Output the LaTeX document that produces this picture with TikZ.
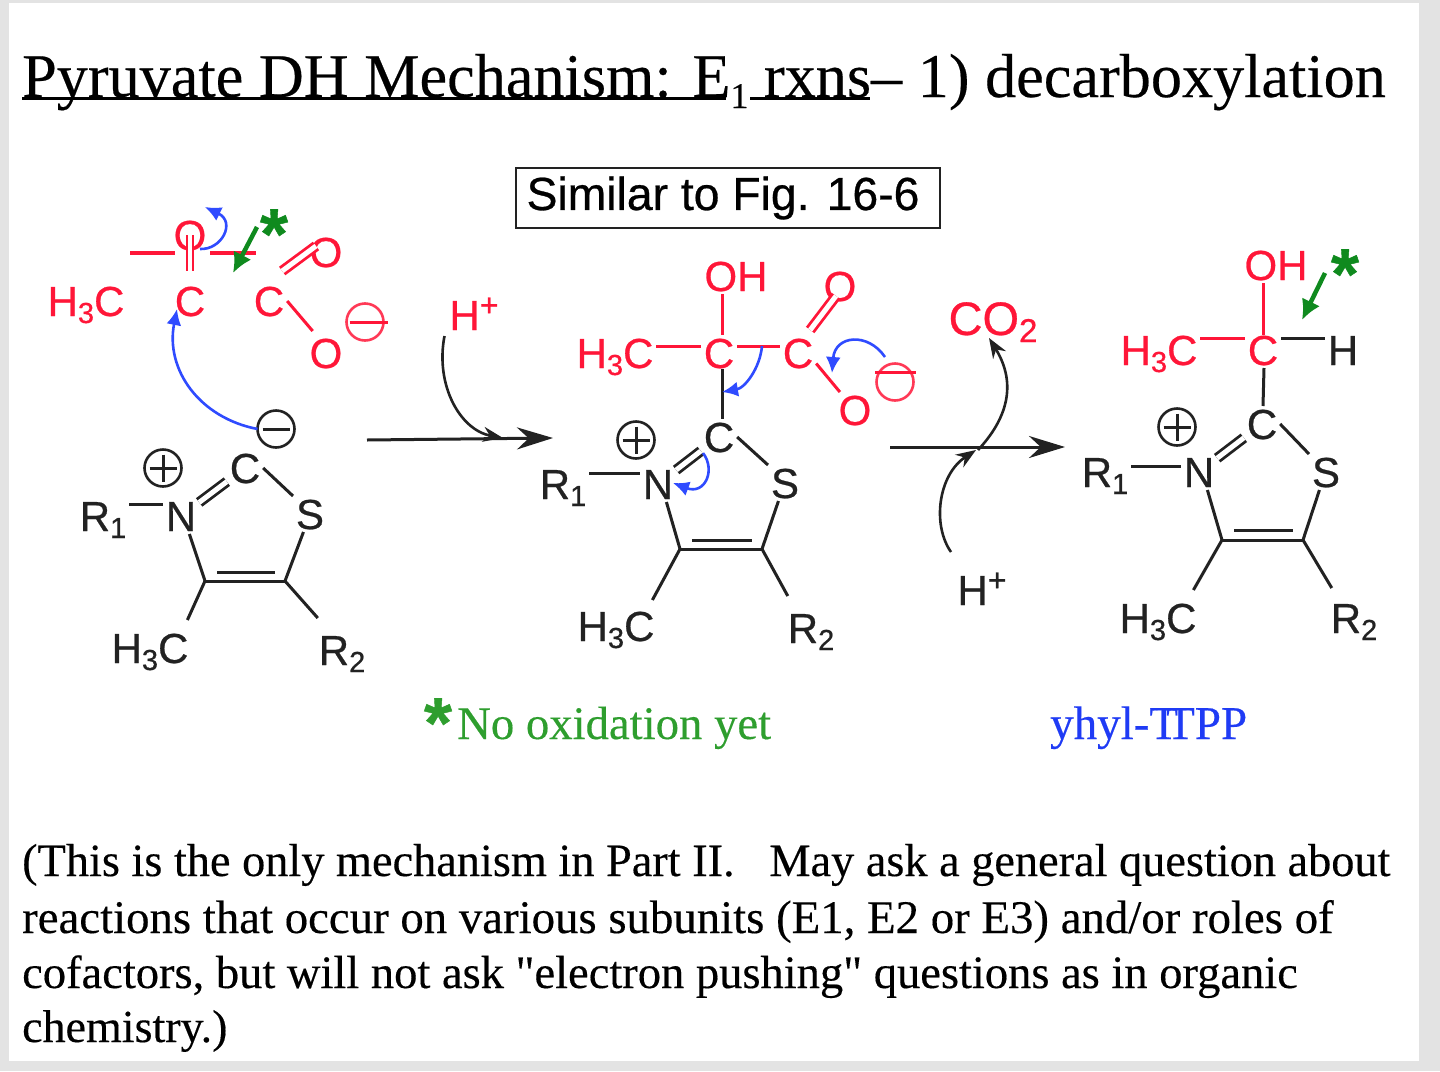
\documentclass[tikz,border=0pt]{standalone}
\usepackage{fontspec}
\setmainfont{Liberation Serif}[FakeBold=0.3]
\newfontfamily\plainserif{Liberation Serif}[FakeBold=0.3]
\newfontfamily\arialf{Liberation Sans}[FakeBold=0.6]
\usetikzlibrary{arrows.meta}
\definecolor{chemred}{HTML}{FF1638}
\definecolor{chemblue}{HTML}{2F4BFF}
\definecolor{chemgreen}{HTML}{0F8A1E}
\definecolor{txtgreen}{HTML}{2E9E2E}
\definecolor{txtblue}{HTML}{1F3BF5}
\definecolor{ink}{HTML}{222222}
\definecolor{framegrey}{HTML}{E3E3E3}
\newcommand{\sbs}[1]{\raisebox{-7pt}{\fontsize{29}{29}\selectfont #1}}
\newcommand{\sps}[1]{\raisebox{14pt}{\fontsize{32}{32}\selectfont #1}}
\tikzset{
  atom/.style={font=\arialf\fontsize{42}{42}\selectfont,inner sep=3pt,outer sep=0pt,text height=30pt,text depth=0pt,anchor=center,text=ink},
  redatom/.style={atom,text=chemred},
  bond/.style={line width=3pt,draw=ink,line cap=butt},
  redbond/.style={bond,draw=chemred},
  dblbond/.style={bond,double=white,double distance=5pt,line width=2.8pt},
  reddbl/.style={dblbond,draw=chemred},
  charge/.style={circle,draw=#1,line width=2.6pt,minimum size=37pt,inner sep=0pt,outer sep=0pt},
  chargeline/.style={line width=3pt,draw=#1},
  curly/.style={line width=2.6pt,draw=chemblue,-{Latex[length=16pt,width=15pt]}},
  greenarrow/.style={line width=4.5pt,draw=chemgreen,-{Latex[length=20pt,width=20pt]}},
  mainarrow/.style={line width=3pt,draw=ink,-{Stealth[length=36pt,width=22pt]}},
  sidearrow/.style={line width=2.6pt,draw=ink,-{Stealth[length=20pt,width=15pt]}},
  serifline/.style={font=\fontsize{#1}{#1}\selectfont,anchor=base west,inner sep=0pt,text=black},
  asterisk/.style={font=\arialf\bfseries\fontsize{72}{72}\selectfont,text=chemgreen,inner sep=0pt},
}
\begin{document}
\begin{tikzpicture}[x=1pt,y=-1pt]
\useasboundingbox (0,0) rectangle (1440,1071);
\fill[framegrey] (0,0) rectangle (1440,1071);
\fill[white] (9,3) rectangle (1419,1061);

% title
\node[font=\fontsize{62.2}{62.2}\selectfont,anchor=base west,inner sep=0pt,text=black] (title) at (22,97)
 {Pyruvate DH Mechanism: E\raisebox{-11pt}{\fontsize{36}{36}\selectfont 1} rxns– 1) decarboxylation};
\coordinate (ua) at (22,98); \coordinate (ub) at (726,98);
\coordinate (uc) at (750,98); \coordinate (ud) at (870,98);
\draw[line width=3pt,black] (ua) -- (ub) (uc) -- (ud);

% box
\node[draw=ink,line width=2.4pt,minimum width=424pt,minimum height=60pt,inner sep=0pt,font=\arialf\fontsize{46.3}{46.3}\selectfont,text=black] (simbox) at (728,198) {Similar to Fig. 16-6\kern10pt};

% ---- pyruvate (red, left)
\node[redatom] (aO) at (190,235) {O};
\node[redatom] (aMe) at (86,301) {H\sbs{3}C};
\node[redatom] (aC) at (190,301) {C};
\node[redatom] (aCc) at (269,301) {C};
\node[redatom] (aOd) at (326,252) {O};
\node[redatom] (aOs) at (326,353) {O};
\node[charge=chemred!85] (aM) at (365,322) {};
\draw[chargeline=chemred] (aM.west) ++(3,0) -- ++(38,0);
\coordinate (s1) at (130,253); \coordinate (s2) at (175,253);
\coordinate (s3) at (210,253); \coordinate (s4) at (256,253);
\draw[redbond,line width=4pt] (s1) -- (s2) (s3) -- (s4);
\draw[reddbl,double distance=4pt,line width=2.4pt] (aO.center) -- ([yshift=12pt]aC.north);
\draw[reddbl] ([shift={(-5pt,12pt)}]aCc.north east) -- ([shift={(-10pt,6pt)}]aOd.center);
\draw[redbond] (aCc.east) -- ([shift={(6pt,4pt)}]aOs.north west);
\coordinate (ca1) at (200,249); \coordinate (ca2) at (205,207);
\draw[curly] (ca1) .. controls (222,250) and (236,222) .. (ca2);
\coordinate (ga1) at (257,227); \coordinate (ga2) at (233,273);
\draw[greenarrow] (ga1) -- (ga2);
\node[asterisk] (st1) at (274,234) {*};

% ---- thiazolium 1
\node[atom] (bC) at (245,468) {C};
\node[atom] (bN) at (181,516) {N};
\node[atom] (bS) at (310,514) {S};
\node[atom] (bR1) at (103,516) {R\sbs{1}};
\node[atom] (bMe) at (150,648) {H\sbs{3}C};
\node[atom] (bR2) at (342,650) {R\sbs{2}};
\coordinate (b4) at (205,581); \coordinate (b5) at (285,581);
\coordinate (b4i) at (217,572); \coordinate (b5i) at (275,572);
\node[charge=ink] (bP) at (163,468) {};
\draw[chargeline=ink] ([xshift=5pt]bP.west) -- ([xshift=-5pt]bP.east) ([yshift=-5pt]bP.north) -- ([yshift=5pt]bP.south);
\node[charge=ink] (bM) at (276,429) {};
\draw[chargeline=ink] ([xshift=5pt]bM.west) -- ([xshift=-5pt]bM.east);
\draw[dblbond] (bN) -- (bC);
\draw[bond] (bC.east) -- (bS.north west);
\draw[bond] (bN.-65) -- (b4);
\draw[bond] (bS.-110) -- (b5);
\draw[bond] (b4) -- (b5) (b4i) -- (b5i);
\draw[bond] ([yshift=12pt]bR1.east) -- ([yshift=12pt]bN.west);
\draw[bond] (b4) -- ([shift={(-4pt,10pt)}]bMe.north east);
\draw[bond] (b5) -- ([shift={(2pt,14pt)}]bR2.north west);
\coordinate (ctip) at (177,309);
\draw[curly] (bM.west) .. controls (200,418) and (165,370) .. (ctip);

% ---- main arrow 1
\coordinate (m1a) at (367,440); \coordinate (m1b) at (553,438);
\draw[mainarrow] (m1a) -- (m1b);
\node[atom,text=chemred] (hp1) at (474,315) {H\sps{+}};
\coordinate (hp1e) at (503,438);
\draw[sidearrow] (hp1.south west) ++(-2,3) .. controls (435,385) and (460,430) .. (hp1e);

% ---- intermediate red
\node[redatom,minimum width=0pt] (cOH) at (736,276) {OH};
\node[redatom] (cMe) at (615,353) {H\sbs{3}C};
\node[redatom] (cC) at (719,353) {C};
\node[redatom] (cCc) at (798,353) {C};
\node[redatom] (cOd) at (840,286) {O};
\node[redatom] (cOs) at (855,410) {O};
\node[charge=chemred!85] (cM) at (895,382) {};
\coordinate (cMa) at (875,372); \coordinate (cMb) at (916,372);
\draw[chargeline=chemred] (cMa) -- (cMb);
\draw[redbond] ([xshift=-14pt]cOH.south) -- ([xshift=3pt]cC.north);
\draw[redbond] ([yshift=7pt]cMe.east) -- ([yshift=7pt]cC.west);
\draw[redbond] ([yshift=7pt]cC.east) -- ([yshift=7pt]cCc.west);
\draw[reddbl] ([shift={(-6pt,5pt)}]cCc.north east) -- ([shift={(-4pt,8pt)}]cOd.south);
\draw[redbond] (cCc.-30) -- (cOs.130);

% ---- thiazolium 2
\node[atom] (dC) at (719,437) {C};
\node[atom] (dN) at (658,484) {N};
\node[atom] (dS) at (785,483) {S};
\node[atom] (dR1) at (563,484) {R\sbs{1}};
\node[atom] (dMe) at (616,626) {H\sbs{3}C};
\node[atom] (dR2) at (811,628) {R\sbs{2}};
\coordinate (d4) at (680,549); \coordinate (d5) at (762,549);
\coordinate (d4i) at (692,540); \coordinate (d5i) at (752,540);
\node[charge=ink] (dP) at (636,440) {};
\draw[chargeline=ink] ([xshift=5pt]dP.west) -- ([xshift=-5pt]dP.east) ([yshift=-5pt]dP.north) -- ([yshift=5pt]dP.south);
\draw[dblbond] (dN) -- (dC);
\draw[bond] (dC.east) -- (dS.north west);
\draw[bond] (dN.-65) -- (d4);
\draw[bond] (dS.-110) -- (d5);
\draw[bond] (d4) -- (d5) (d4i) -- (d5i);
\draw[bond] ([yshift=11pt]dR1.east) -- ([yshift=11pt]dN.west);
\draw[bond] (d4) -- ([shift={(-5pt,8pt)}]dMe.north east);
\draw[bond] (d5) -- ([shift={(3pt,14pt)}]dR2.north west);
\draw[bond] ([xshift=3pt,yshift=2pt]cC.south) -- ([xshift=3pt]dC.north);
\coordinate (e1a) at (762,346); \coordinate (e1b) at (722,392);
\draw[curly] (e1a) .. controls (760,368) and (745,388) .. (e1b);
\coordinate (e2a) at (885,357); \coordinate (e2b) at (832,373);
\draw[curly] (e2a) .. controls (868,332) and (835,335) .. (e2b);
\coordinate (e3a) at (703,453); \coordinate (e3b) at (673,483);
\draw[curly] (e3a) .. controls (716,470) and (705,495) .. (e3b);

% ---- main arrow 2
\coordinate (m2a) at (890,447); \coordinate (m2b) at (1065,447);
\draw[mainarrow] (m2a) -- (m2b);
\node[redatom,font=\arialf\fontsize{47}{47}\selectfont] (co2) at (993,320) {CO\raisebox{-7pt}{\fontsize{33}{33}\selectfont 2}};
\node[atom,text=ink] (hp2) at (982,590) {H\sps{+}};
\coordinate (co2s) at (978,450); \coordinate (co2e) at (989,338);
\draw[sidearrow] (co2s) .. controls (1006,420) and (1018,385) .. (co2e);
\coordinate (hs) at (951,552); \coordinate (he) at (976,450);
\draw[sidearrow] (hs) .. controls (932,525) and (938,475) .. (he);

% ---- product
\node[redatom] (fOH) at (1276,265) {OH};
\node[redatom] (fMe) at (1159,350) {H\sbs{3}C};
\node[redatom] (fC) at (1263,350) {C};
\node[atom] (fH) at (1343,350) {H};
\draw[redbond] ([xshift=-13pt]fOH.south) -- ([yshift=-3pt]fC.north);
\draw[redbond] ([yshift=12pt]fMe.east) -- ([yshift=12pt]fC.west);
\draw[bond] ([yshift=12pt]fC.east) -- ([yshift=12pt]fH.west);
\node[atom] (gC) at (1262,424) {C};
\node[atom] (gN) at (1199,472) {N};
\node[atom] (gS) at (1326,472) {S};
\node[atom] (gR1) at (1105,472) {R\sbs{1}};
\node[atom] (gMe) at (1158,618) {H\sbs{3}C};
\node[atom] (gR2) at (1354,618) {R\sbs{2}};
\coordinate (g4) at (1222,540); \coordinate (g5) at (1303,540);
\coordinate (g4i) at (1234,530); \coordinate (g5i) at (1293,530);
\node[charge=ink] (gP) at (1177,427) {};
\draw[chargeline=ink] ([xshift=5pt]gP.west) -- ([xshift=-5pt]gP.east) ([yshift=-5pt]gP.north) -- ([yshift=5pt]gP.south);
\draw[bond] ([xshift=1pt]fC.south) -- ([xshift=1pt]gC.north);
\draw[dblbond] (gN) -- (gC);
\draw[bond] (gC.east) -- (gS.north west);
\draw[bond] (gN.-65) -- (g4);
\draw[bond] (gS.-110) -- (g5);
\draw[bond] (g4) -- (g5) (g4i) -- (g5i);
\draw[bond] ([yshift=6pt]gR1.east) -- ([yshift=6pt]gN.west);
\draw[bond] (g4) -- ([shift={(-6pt,10pt)}]gMe.north east);
\draw[bond] (g5) -- ([shift={(4pt,12pt)}]gR2.north west);
\coordinate (gr1) at (1325,273); \coordinate (gr2) at (1302,320);
\draw[greenarrow] (gr1) -- (gr2);
\node[asterisk] (st2) at (1345,274) {*};

% ---- captions
\node[asterisk,text=txtgreen,anchor=center] (st3) at (438,723) {*};
\node[font=\fontsize{46.7}{46.7}\selectfont,anchor=base west,inner sep=0pt,text=txtgreen] (noox) at (457,739) {No oxidation yet};
\node[font=\fontsize{47}{47}\selectfont,anchor=base west,inner sep=0pt,text=txtblue] (yhyl) at (1050,739) {yhyl-T\kern-12pt TPP};

% ---- note
\node[serifline=46.3] (l1) at (22,876) {(This is the only mechanism in Part II.\ \ \ May ask a general question about};
\node[serifline=46.8] (l2) at (22,933) {reactions that occur on various subunits (E1, E2 or E3) and/or roles of};
\node[serifline=46.5] (l3) at (22,988) {\plainserif cofactors, but will not ask "electron pushing" questions as in organic};
\node[serifline=46] (l4) at (22,1042) {chemistry.)};
\end{tikzpicture}
\end{document}
